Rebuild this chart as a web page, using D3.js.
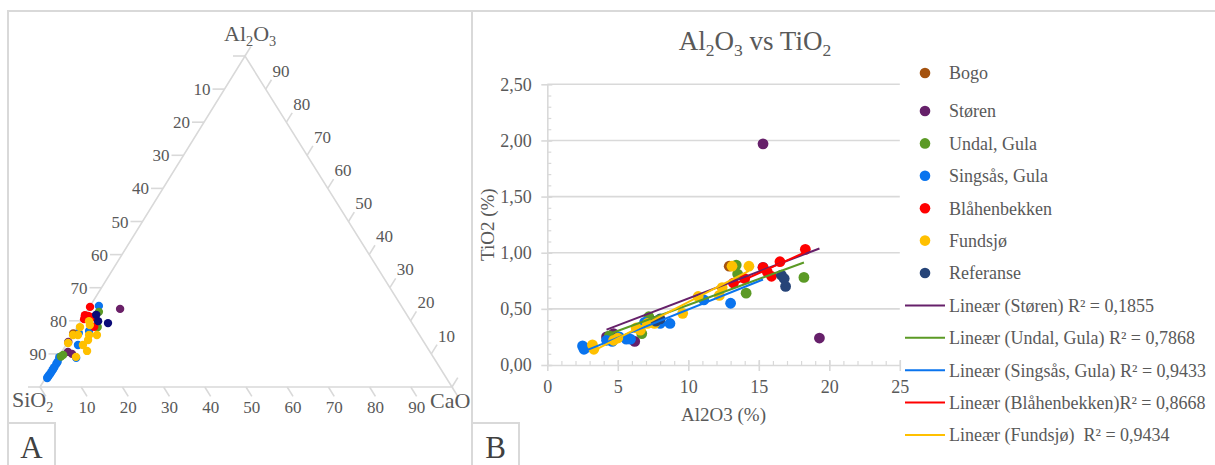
<!DOCTYPE html>
<html>
<head>
<meta charset="utf-8">
<script src="https://cdn.jsdelivr.net/npm/d3@7"></script>
<style>
  body { margin: 0; background: #fff; }
  svg { display: block; }
</style>
</head>
<body>
<svg id="chart" width="1215" height="465" font-family="Liberation Serif, serif"></svg>
<script>
// ---------- Ternary diagram data: [SiO2, Al2O3, CaO] in % ----------
const ternBogo = [[83.8, 16.2, 0.0]];
const ternStoren = [[68.7, 23.6, 7.7], [86.3, 13.6, 0.1], [87.9, 10.6, 1.5], [87.2, 10.0, 2.8]];
const ternUndal = [[74.3, 22.7, 3.0], [76.9, 18.1, 5.0], [89.5, 9.7, 0.8], [90.3, 9.2, 0.5]];
const ternSingsas = [[73.4, 24.5, 2.1], [79.6, 16.9, 3.5], [82.4, 16.3, 1.3], [84.4, 12.7, 2.9],
  [86.8, 8.8, 4.4], [90.8, 9.0, 0.2], [91.9, 7.6, 0.5], [92.5, 7.0, 0.5], [93.5, 6.0, 0.5],
  [94.0, 5.5, 0.5], [94.4, 5.1, 0.5], [95.0, 4.5, 0.5], [95.6, 3.9, 0.5], [96.1, 3.5, 0.4],
  [96.6, 3.0, 0.4], [96.9, 2.7, 0.4]];
const ternBlahen = [[75.7, 24.2, 0.1], [78.2, 21.7, 0.1], [77.5, 21.5, 1.0], [76.6, 21.1, 2.3],
  [77.7, 18.2, 4.1], [79.0, 20.5, 0.5]];
const ternFundsjo = [[78.1, 19.9, 2.0], [78.5, 18.7, 2.8], [81.2, 18.1, 0.7], [84.1, 15.7, 0.2],
  [82.9, 15.7, 1.4], [80.2, 15.7, 4.1], [78.3, 15.7, 6.0], [81.2, 14.2, 4.6], [86.5, 13.3, 0.2],
  [83.2, 12.7, 4.1], [83.1, 10.9, 6.0], [86.7, 9.1, 4.2]];
const ternReferanse = [[75.4, 21.8, 2.8], [75.9, 19.9, 4.2], [73.8, 19.3, 6.9]];
const ternTicks = [0, 10, 20, 30, 40, 50, 60, 70, 80, 90, 100];

// ---------- Al2O3 vs TiO2 data (%) ----------
const seriesNames = ["Bogo", "Støren", "Undal, Gula", "Singsås, Gula", "Blåhenbekken", "Fundsjø", "Referanse"];
const bogoAl = [12.9];
const bogoTi = [0.88];
const storenAl = [4.2, 4.7, 6.2, 15.3, 19.3];
const storenTi = [0.25, 0.28, 0.21, 1.97, 0.24];
const undalAl = [4.4, 6.7, 7.2, 13.4, 13.5, 14.1, 18.2];
const undalTi = [0.26, 0.28, 0.43, 0.89, 0.81, 0.64, 0.78];
const singsasAl = [2.5, 2.6, 2.7, 4.2, 4.6, 5.1, 5.6, 5.9, 6.9, 8.0, 8.7, 11.1, 13.0, 15.3];
const singsasTi = [0.17, 0.14, 0.15, 0.22, 0.21, 0.25, 0.23, 0.23, 0.38, 0.37, 0.37, 0.58, 0.55, 0.87];
const blahenAl = [13.2, 14.0, 15.3, 15.6, 15.9, 16.5, 18.3];
const blahenTi = [0.73, 0.77, 0.87, 0.83, 0.79, 0.92, 1.03];
const fundsjoAl = [3.2, 3.3, 4.7, 5.0, 6.3, 6.6, 7.1, 7.6, 9.6, 10.7, 12.2, 12.4, 13.1, 14.3];
const fundsjoTi = [0.18, 0.14, 0.22, 0.24, 0.33, 0.31, 0.37, 0.37, 0.46, 0.61, 0.62, 0.69, 0.88, 0.88];
const referanseAl = [7.7, 8.0, 16.6, 16.8, 16.9];
const referanseTi = [0.39, 0.41, 0.80, 0.77, 0.70];
const trendLabels = ["Lineær (Støren) R² = 0,1855", "Lineær (Undal, Gula) R² = 0,7868",
  "Lineær (Singsås, Gula) R² = 0,9433", "Lineær (Blåhenbekken)R² = 0,8668", "Lineær (Fundsjø)  R² = 0,9434"];
const xTickValues = [0, 5, 10, 15, 20, 25];
const yTickValues = [0, 0.5, 1.0, 1.5, 2.0, 2.5];

// ---------- styles ----------
const fontFamily = "Liberation Serif, serif";
const textColor = "#595959";
const gridColor = "#d9d9d9";
const colors = {
  "Bogo": "#a4520f", "Støren": "#66206a", "Undal, Gula": "#5b9a25", "Singsås, Gula": "#0a74ee",
  "Blåhenbekken": "#ff0000", "Fundsjø": "#ffc000", "Referanse": "#264478"
};
const ternColors = Object.assign({}, colors, { "Referanse": "#0b0b78", "Støren": "#6a2068" });

const svg = d3.select("#chart");

// panel frames
svg.append("path")
  .attr("d", "M8,466V11H1216M472,11V466")
  .attr("fill", "none").attr("stroke", gridColor).attr("stroke-width", 2);

// panel tags
[{ t: "A", x: 8 }, { t: "B", x: 472 }].forEach(p => {
  svg.append("rect").attr("x", p.x).attr("y", 423).attr("width", 47).attr("height", 50)
    .attr("fill", "#fff").attr("stroke", gridColor).attr("stroke-width", 2);
  svg.append("text").attr("x", p.x + 23.5).attr("y", 458).attr("text-anchor", "middle")
    .attr("font-size", 31).attr("fill", "#404040").text(p.t);
});

// helper: text with subscripts, parts = [[text, isSub], ...]
function subText(sel, parts, size) {
  let shift = 0;
  parts.forEach(([s, sub]) => {
    const target = sub ? size * 0.22 : 0;
    const ts = sel.append("tspan").text(s).attr("dy", target - shift);
    if (sub) ts.attr("font-size", size * 0.65);
    shift = target;
  });
  return sel;
}

// =================== A: ternary SiO2 - Al2O3 - CaO ===================
const tern = svg.append("g");
const alY = d3.scaleLinear().domain([0, 100]).range([387, 56]);
const alX = d3.scaleLinear().domain([0, 100]).range([0, 205]);
const caX = d3.scaleLinear().domain([0, 100]).range([0, 412]);
const originX = 40;
function tpos(si, al, ca) {
  const s = si + al + ca;
  const a = al / s * 100, c = ca / s * 100;
  return [originX + alX(a) + caX(c), alY(a)];
}
const cSi = tpos(100, 0, 0), cAl = tpos(0, 100, 0), cCa = tpos(0, 0, 100);
tern.append("path")
  .attr("d", `M${cSi}L${cAl}L${cCa}Z`)
  .attr("fill", "none").attr("stroke", gridColor).attr("stroke-width", 1.6);

const tickLen = 11;
function unit(p, q) { const dx = q[0] - p[0], dy = q[1] - p[1]; const l = Math.hypot(dx, dy); return [dx / l, dy / l]; }
const dirBottom = unit(cAl, cCa);   // ticks on CaO axis
const dirRight = unit(cSi, cAl);    // ticks on Al2O3 axis

// SiO2 axis (left edge)
ternTicks.forEach(v => {
  const p = tpos(v, 100 - v, 0);
  tern.append("line").attr("x1", p[0]).attr("y1", p[1]).attr("x2", p[0] - 12).attr("y2", p[1])
    .attr("stroke", gridColor).attr("stroke-width", 1.6);
  if (v > 0 && v < 100)
    tern.append("text").attr("x", p[0] - 14).attr("y", p[1] + 6).attr("text-anchor", "end")
      .attr("font-size", 17).attr("fill", textColor).text(v);
});
// CaO axis (bottom edge)
ternTicks.forEach(v => {
  const p = tpos(100 - v, 0, v);
  const e = [p[0] + dirBottom[0] * tickLen, p[1] + dirBottom[1] * tickLen];
  tern.append("line").attr("x1", p[0]).attr("y1", p[1]).attr("x2", e[0]).attr("y2", e[1])
    .attr("stroke", gridColor).attr("stroke-width", 1.6);
  if (v > 0 && v < 100)
    tern.append("text").attr("x", e[0]).attr("y", p[1] + 25.5).attr("text-anchor", "middle")
      .attr("font-size", 17).attr("fill", textColor).text(v);
});
// Al2O3 axis (right edge)
ternTicks.forEach(v => {
  const p = tpos(0, v, 100 - v);
  const e = [p[0] + dirRight[0] * tickLen, p[1] + dirRight[1] * tickLen];
  tern.append("line").attr("x1", p[0]).attr("y1", p[1]).attr("x2", e[0]).attr("y2", e[1])
    .attr("stroke", gridColor).attr("stroke-width", 1.6);
  if (v > 0 && v < 100)
    tern.append("text").attr("x", e[0] + 1).attr("y", e[1] - 3).attr("text-anchor", "start")
      .attr("font-size", 17).attr("fill", textColor).text(v);
});

// corner labels
subText(tern.append("text").attr("x", 224).attr("y", 41).attr("font-size", 22).attr("fill", textColor),
  [["Al", false], ["2", true], ["O", false], ["3", true]], 22);
subText(tern.append("text").attr("x", 12).attr("y", 407).attr("font-size", 22).attr("fill", textColor),
  [["SiO", false], ["2", true]], 22);
tern.append("text").attr("x", 430).attr("y", 408).attr("font-size", 22).attr("fill", textColor).text("CaO");

// ternary points
const ternGroups = [
  ["Singsås, Gula", ternSingsas], ["Bogo", ternBogo], ["Støren", ternStoren], ["Undal, Gula", ternUndal],
  ["Blåhenbekken", ternBlahen], ["Fundsjø", ternFundsjo], ["Referanse", ternReferanse]
];
ternGroups.forEach(([name, pts]) => {
  tern.append("g").selectAll("circle").data(pts).join("circle")
    .attr("cx", d => tpos(d[0], d[1], d[2])[0])
    .attr("cy", d => tpos(d[0], d[1], d[2])[1])
    .attr("r", 4.2).attr("fill", ternColors[name]);
});

// =================== B: Al2O3 vs TiO2 ===================
const chartB = svg.append("g");
const xB = d3.scaleLinear().domain([0, 25]).range([547.3, 899.8]);
const yB = d3.scaleLinear().domain([0, 2.5]).range([365, 84.3]);
const locale = d3.formatLocale({ decimal: ",", thousands: ".", grouping: [3], currency: ["", ""] });
const fmt2 = locale.format(".2f");

// title
subText(chartB.append("text").attr("x", 755).attr("y", 50).attr("text-anchor", "middle")
  .attr("font-size", 27).attr("fill", textColor),
  [["Al", false], ["2", true], ["O", false], ["3", true], [" vs TiO", false], ["2", true]], 27);

// horizontal gridlines
chartB.append("g").selectAll("line").data(yTickValues.filter(v => v > 0)).join("line")
  .attr("x1", xB(0)).attr("x2", xB(25)).attr("y1", d => yB(d)).attr("y2", d => yB(d))
  .attr("stroke", gridColor).attr("stroke-width", 1.6);

// minor ticks
chartB.append("g").attr("transform", `translate(${xB(0)},0)`)
  .call(d3.axisRight(yB).tickValues(d3.range(0, 25).map(i => i / 10)).tickSize(4).tickFormat(""))
  .call(g => g.select(".domain").remove())
  .call(g => g.selectAll("line").attr("stroke", gridColor).attr("stroke-width", 1.2));
chartB.append("g").attr("transform", `translate(0,${yB(0)})`)
  .call(d3.axisTop(xB).tickValues(d3.range(0, 26)).tickSize(4).tickFormat(""))
  .call(g => g.select(".domain").remove())
  .call(g => g.selectAll("line").attr("stroke", gridColor).attr("stroke-width", 1.2));

// y axis
chartB.append("g").attr("transform", `translate(${xB(0)},0)`)
  .call(d3.axisLeft(yB).tickValues(yTickValues).tickFormat(fmt2).tickSizeInner(6).tickSizeOuter(0).tickPadding(9.5))
  .call(g => g.select(".domain").attr("stroke", gridColor).attr("stroke-width", 1.6))
  .call(g => g.selectAll(".tick line").attr("x1", 5).attr("stroke", gridColor).attr("stroke-width", 1.6))
  .call(g => g.selectAll("text").attr("font-size", 18).attr("fill", textColor));

// x axis
chartB.append("g").attr("transform", `translate(0,${yB(0)})`)
  .call(d3.axisBottom(xB).tickValues(xTickValues).tickFormat(d3.format("d")).tickSizeInner(6).tickSizeOuter(0).tickPadding(9.7))
  .call(g => g.select(".domain").attr("stroke", gridColor).attr("stroke-width", 1.6))
  .call(g => g.selectAll(".tick line").attr("y1", -5).attr("stroke", gridColor).attr("stroke-width", 1.6))
  .call(g => g.selectAll("text").attr("font-size", 18).attr("fill", textColor));

// axis titles
chartB.append("text").attr("x", (xB(0) + xB(25)) / 2).attr("y", 421).attr("text-anchor", "middle")
  .attr("font-size", 19).attr("fill", textColor).text("Al2O3 (%)");
chartB.append("text").attr("transform", `translate(494,${(yB(0) + yB(2.5)) / 2}) rotate(-90)`)
  .attr("text-anchor", "middle").attr("font-size", 19).attr("fill", textColor).text("TiO2 (%)");

// scatter series
const seriesData = [
  [bogoAl, bogoTi], [storenAl, storenTi], [undalAl, undalTi], [singsasAl, singsasTi],
  [blahenAl, blahenTi], [fundsjoAl, fundsjoTi], [referanseAl, referanseTi]
];
seriesData.forEach(([xs, ys], i) => {
  const pts = xs.map((x, k) => [x, ys[k]]);
  chartB.append("g").selectAll("circle").data(pts).join("circle")
    .attr("cx", d => xB(d[0])).attr("cy", d => yB(d[1]))
    .attr("r", 5.4).attr("fill", colors[seriesNames[i]]);
});

// linear trendlines (least squares over each series' Al2O3 range)
function linFit(xs, ys) {
  const mx = d3.mean(xs), my = d3.mean(ys);
  const sxy = d3.sum(xs, (x, k) => (x - mx) * (ys[k] - my));
  const sxx = d3.sum(xs, x => (x - mx) * (x - mx));
  const b = sxy / sxx;
  return { b, a: my - b * mx, x0: d3.min(xs), x1: d3.max(xs) };
}
const trendSeries = [
  ["Støren", storenAl, storenTi], ["Undal, Gula", undalAl, undalTi], ["Singsås, Gula", singsasAl, singsasTi],
  ["Blåhenbekken", blahenAl, blahenTi], ["Fundsjø", fundsjoAl, fundsjoTi]
];
trendSeries.forEach(([name, xs, ys]) => {
  const f = linFit(xs, ys);
  chartB.append("line")
    .attr("x1", xB(f.x0)).attr("y1", yB(f.a + f.b * f.x0))
    .attr("x2", xB(f.x1)).attr("y2", yB(f.a + f.b * f.x1))
    .attr("stroke", colors[name]).attr("stroke-width", 2);
});

// legend
const legend = chartB.append("g");
const rowY = i => (i === 0 ? 73 : 111 + (i - 1) * 32.4);
seriesNames.forEach((name, i) => {
  legend.append("circle").attr("cx", 925).attr("cy", rowY(i)).attr("r", 5.3).attr("fill", colors[name]);
  legend.append("text").attr("x", 949).attr("y", rowY(i)).attr("dy", "0.35em")
    .attr("font-size", 18).attr("fill", textColor).text(name);
});
trendSeries.forEach(([name], j) => {
  const y = rowY(seriesNames.length + j);
  legend.append("line").attr("x1", 905).attr("x2", 945).attr("y1", y).attr("y2", y)
    .attr("stroke", colors[name]).attr("stroke-width", 2);
  legend.append("text").attr("x", 949).attr("y", y).attr("dy", "0.35em")
    .attr("font-size", 18).attr("fill", textColor).style("white-space", "pre").text(trendLabels[j]);
});

// one serif face for every label
svg.selectAll("text").attr("font-family", fontFamily);
</script>
</body>
</html>
